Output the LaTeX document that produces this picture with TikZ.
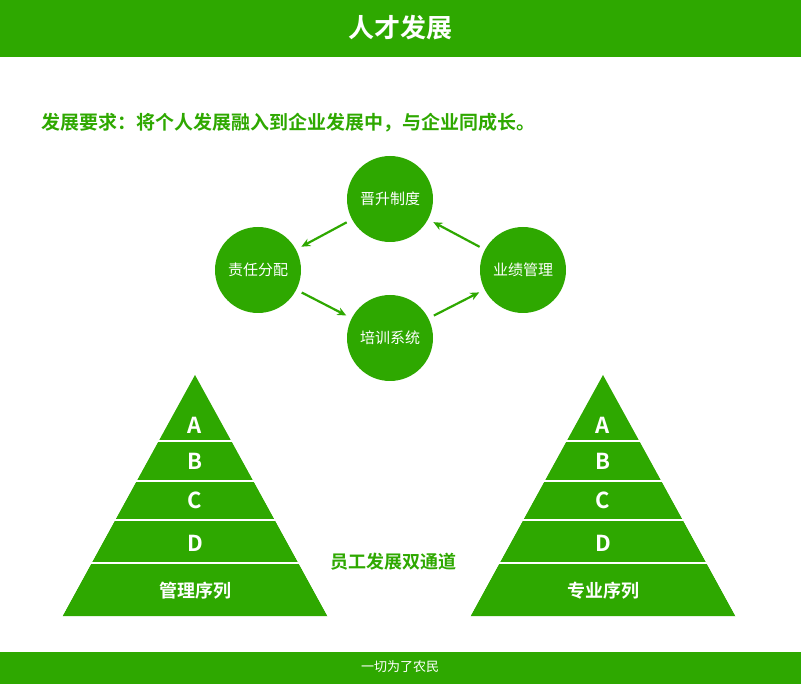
\documentclass[tikz,border=0pt]{standalone}
\usepackage{fontspec}
\usetikzlibrary{arrows.meta}
\setmainfont{Noto Sans CJK SC}[BoldFont={* Bold}]
\definecolor{gr}{HTML}{2EA800}
\tikzset{circ/.style={circle,fill=gr,minimum size=86pt,inner sep=0pt,text=white,font=\fontsize{15}{15}\selectfont},
arr/.style={-{Stealth[length=9pt,width=8pt]},gr,line width=2.2pt,shorten <=6pt,shorten >=6pt},
lab/.style={text=white,font=\bfseries\fontsize{22}{22}\selectfont}}
\begin{document}
\begin{tikzpicture}[x=1pt,y=-1pt]
\useasboundingbox (0,0) rectangle (801,684);
\fill[gr] (0,0) rectangle (801,57);
\node[text=white,font=\bfseries\fontsize{26}{26}\selectfont] (title) at (400,28) {人才发展};
\fill[gr] (0,652) rectangle (801,684);
\node[text=white,font=\fontsize{13}{13}\selectfont] (foot) at (400,667) {一切为了农民};
\node[anchor=west,text=gr,font=\bfseries\fontsize{19}{19}\selectfont] (req) at (38,123) {发展要求：将个人发展融入到企业发展中，与企业同成长。};
\node[circ] (a) at (390,199) {晋升制度};
\node[circ] (b) at (258,270) {责任分配};
\node[circ] (c) at (523,270) {业绩管理};
\node[circ] (d) at (390,338) {培训系统};
\draw[arr] (c) -- (a);
\draw[arr] (a) -- (b);
\draw[arr] (b) -- (d);
\draw[arr] (d) -- (c);
\foreach \cx/\nm/\t in {195/L/管理序列,603/R/专业序列}{
  \fill[gr] (\cx,375) -- (\cx+132.5,616) -- (\cx-132.5,616) -- cycle;
  \foreach \yy in {441,481,520,563}{
    \draw[white,line width=2.5pt] (\cx-140,\yy) -- (\cx+140,\yy);}
  \fill[white] (\cx,373) -- (\cx-140,373) -- (\cx-140,616) -- (\cx-132.5,616) -- cycle;
  \fill[white] (\cx,373) -- (\cx+140,373) -- (\cx+140,616) -- (\cx+132.5,616) -- cycle;
  \node[lab] (A\nm) at (\cx,425) {A};
  \node[lab] (B\nm) at (\cx,461) {B};
  \node[lab] (C\nm) at (\cx,500) {C};
  \node[lab] (D\nm) at (\cx,543) {D};
  \node[text=white,font=\bfseries\fontsize{18}{18}\selectfont] (T\nm) at (\cx,591) {\t};
}
\node[text=gr,font=\bfseries\fontsize{18}{18}\selectfont] (mid) at (393,562) {员工发展双通道};
\end{tikzpicture}
\end{document}
